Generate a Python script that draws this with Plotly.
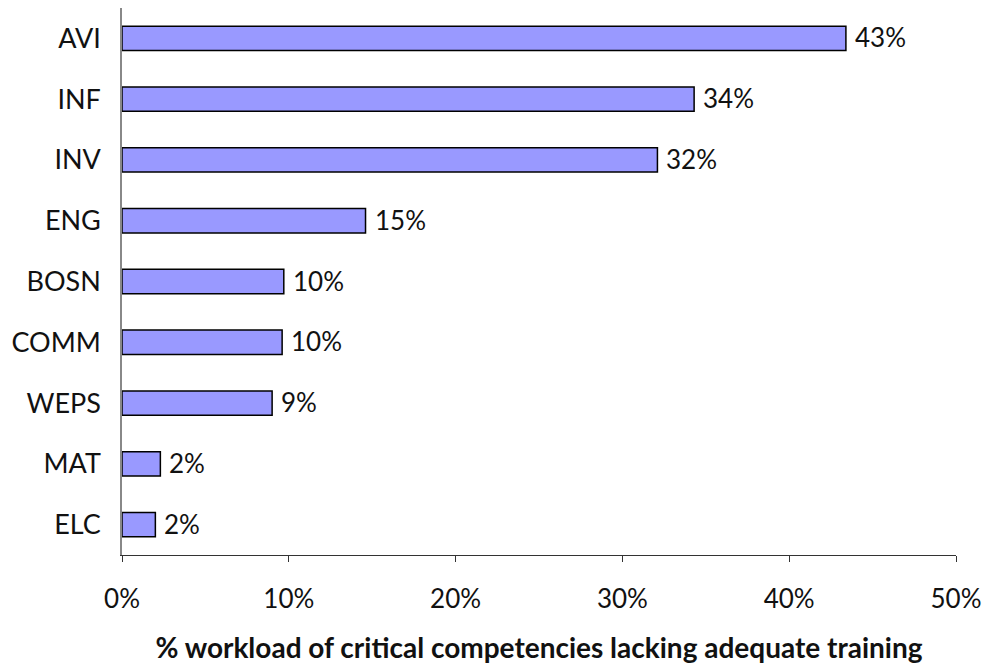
import plotly.graph_objects as go

categories = ["AVI", "INF", "INV", "ENG", "BOSN", "COMM", "WEPS", "MAT", "ELC"]
values = [43.4, 34.3, 32.1, 14.6, 9.7, 9.6, 9.0, 2.3, 2.0]
labels = ["43%", "34%", "32%", "15%", "10%", "10%", "9%", "2%", "2%"]
tick_vals = [0, 10, 20, 30, 40, 50]
tick_text = ["0%", "10%", "20%", "30%", "40%", "50%"]

FONT = "Lato"

fig = go.Figure(go.Bar(
    x=values, y=categories, orientation="h",
    marker=dict(color="#9999FF", line=dict(color="black", width=1.5)),
    width=0.4,
))

for v, c, t in zip(values, categories, labels):
    fig.add_annotation(x=v, y=c, text=t, showarrow=False, xanchor="left",
                       xshift=7, yshift=1,
                       font=dict(family=FONT, size=26, color="#111111"))

fig.update_layout(
    width=989, height=668,
    margin=dict(l=122, r=33, t=8, b=113),
    plot_bgcolor="white", paper_bgcolor="white",
    showlegend=False,
    font=dict(family=FONT, size=26, color="#111111"),
    xaxis=dict(
        range=[0, 50], tickvals=tick_vals, ticktext=tick_text,
        showgrid=False, zeroline=False,
        showline=True, linecolor="#333333", linewidth=1,
        ticks="outside", ticklen=6, tickcolor="#333333",
        ticklabelstandoff=15,
        tickfont=dict(family=FONT, size=26, color="#111111"),
        title=dict(text="<b>% workload of critical competencies lacking adequate training</b>",
                   font=dict(family=FONT, size=28, color="#111111"), standoff=25),
    ),
    yaxis=dict(
        categoryorder="array", categoryarray=categories[::-1],
        showgrid=False, zeroline=False,
        showline=True, linecolor="#888888", linewidth=1.5,
        ticks="", ticklabelstandoff=14,
        tickfont=dict(family=FONT, size=27, color="#111111"),
    ),
)

fig.write_html("out.html")
